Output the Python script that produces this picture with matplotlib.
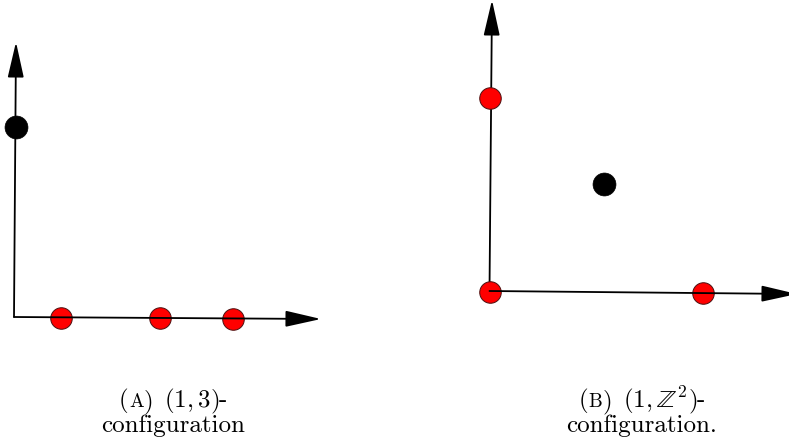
import matplotlib
matplotlib.use("Agg")
import matplotlib.pyplot as plt

plt.rcParams['mathtext.fontset'] = 'cm'

# ---- data (pixel-like coordinate system of the drawing) ----
# Panel A
a_origin = (14, 317)
a_ytip = (16, 42)
a_xtip = (321, 319)
a_red_x = [61.5, 160.5, 233]
a_red_y = [317.5, 318, 318.5]
a_black_x = [16]
a_black_y = [126.5]
a_caption = ["A", r"$(1,3)$", "configuration"]

# Panel B
b_origin = (489.5, 291)
b_ytip = (492, 0)
b_xtip = (797, 294)
b_red_x = [490.5, 490, 703]
b_red_y = [97.5, 291.5, 292.5]
b_black_x = [604]
b_black_y = [184]
b_caption = ["B", r"$(1,\mathbb{Z}^2)$", "configuration."]

fig = plt.figure(figsize=(7.89, 4.45), dpi=100)
ax = fig.add_axes([0, 0, 1, 1])
ax.set_xlim(0, 789)
ax.set_ylim(445, 0)
ax.axis('off')

def arrow(start, tip, z):
    ax.annotate('', xy=tip, xytext=start,
                arrowprops=dict(arrowstyle='-|>,head_length=2.2,head_width=0.5',
                                color='black', lw=1.3, shrinkA=0, shrinkB=0,
                                mutation_scale=10),
                annotation_clip=False, zorder=z)

red_kw = dict(ls='none', marker='o', ms=15.5, mfc='#ff0000', mec='#4a1010', mew=0.7)
blk_kw = dict(ls='none', marker='o', ms=16.5, mfc='black', mec='black', mew=0.5)

for origin, ytip, xtip, rx, ry, bx, by in [
        (a_origin, a_ytip, a_xtip, a_red_x, a_red_y, a_black_x, a_black_y),
        (b_origin, b_ytip, b_xtip, b_red_x, b_red_y, b_black_x, b_black_y)]:
    arrow(origin, ytip, 1)
    ax.plot(rx, ry, zorder=2, **red_kw)
    ax.plot(bx, by, zorder=2, **blk_kw)
    arrow(origin, xtip, 3)

fs = 18
tp = dict(fontfamily='cmr10', fontsize=fs, color='black')
tps = dict(fontfamily='cmr10', fontsize=fs * 0.78, color='black')
mp = dict(fontsize=fs, color='black')

renderer = fig.canvas.get_renderer()

def caption(cx, y1, y2, parts):
    letter, math, word = parts
    pieces = [("(", tp, 0.5), (letter, tps, 0.5), (")", tp, 10), (math, mp, 0), ("-", tp, 0)]
    texts = []
    total = 0
    for s, props, gap in pieces:
        t = ax.text(0, y1, s, ha='left', va='baseline', **props)
        w = t.get_window_extent(renderer).width
        texts.append((t, w, gap))
        total += w + gap
    total -= pieces[-1][2]
    x = cx - total / 2
    for t, w, gap in texts:
        t.set_x(x)
        x += w + gap
    ax.text(cx, y2, word, ha='center', va='baseline', **tp)

caption(173, 407, 432, a_caption)
caption(642, 407, 432, b_caption)

fig.savefig('out.png', dpi=100)
